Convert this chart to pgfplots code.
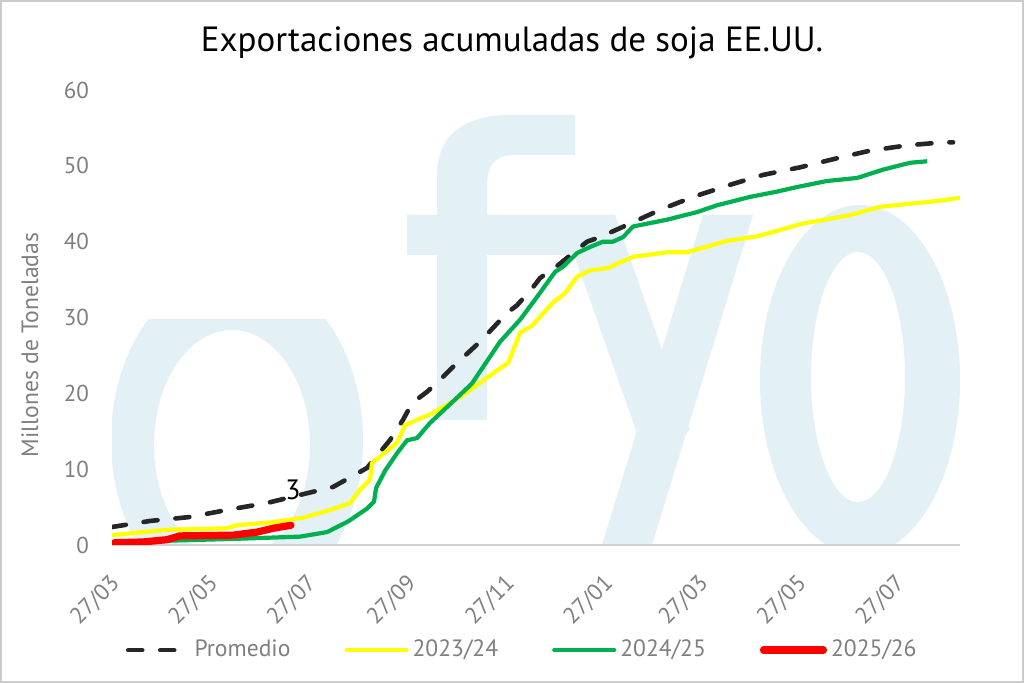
\documentclass[border=0pt]{standalone}
\usepackage{pgfplots}
\pgfplotsset{compat=1.18}
\usepackage{pgfplotstable}
\usepackage{fontspec}
\setmainfont{PT Sans}
\definecolor{wm}{HTML}{E3F0F5}
\definecolor{tgray}{HTML}{7F7F7F}
\definecolor{ygreen}{HTML}{00B050}
\definecolor{yyellow}{HTML}{FFFF00}
\definecolor{rred}{HTML}{FF0000}
\definecolor{dblack}{HTML}{262626}

\pgfplotstableread{
d v
0 2.37
23.6 3.17
48.4 3.69
71.3 4.62
96.2 5.54
116.6 6.60
137.1 7.65
158.2 10.16
172.5 13.85
180.5 16.5
186.1 18.7
195.4 20.2
201.6 21.4
214.0 24.0
228.3 26.8
245.0 30.6
251.2 31.6
261.2 34.0
265.5 35.2
276.7 36.9
294.7 40.0
302.7 40.6
319.5 42.2
340.0 44.2
360.4 45.9
383.4 47.5
403.8 48.8
426.8 49.8
449.8 51.0
470.2 52.0
493.2 52.7
515.5 53.1
521.7 53.1
}\promedio

\pgfplotstableread{
d v
0 1.3
34.1 2.0
71.3 2.2
77.5 2.6
99.9 3.0
118.5 3.6
133.4 4.5
147.6 5.5
153.8 7.3
160.0 8.6
161.3 10.8
176.8 13.5
181.8 15.8
189.2 16.5
199.1 17.4
215.9 19.5
226.4 21.1
240.7 23.3
245.7 24.0
253.1 28.0
260.5 28.9
273.6 32.0
281.0 33.2
288.5 35.4
296.5 36.2
307.1 36.5
323.2 38.0
344.3 38.6
356.7 38.6
381.5 40.1
400.1 40.7
428.7 42.4
457.8 43.5
476.4 44.6
499.4 45.1
513.6 45.4
526.1 45.8
}\yA

\pgfplotstableread{
d v
0 0.3
40 0.6
75 0.8
116.6 1.1
133.4 1.7
146.4 3.1
158.2 4.8
162.5 5.7
163.8 7.5
169.4 9.8
176.8 12.1
183.0 13.8
189.2 14.1
197.3 16.1
215.9 19.8
223.3 21.3
240.7 26.8
253.1 29.7
263.6 32.7
274.8 36.0
279.8 36.7
288.5 38.5
296.5 39.3
304.6 40.0
310.8 40.0
317.0 40.6
323.2 42.0
344.3 42.9
362.9 43.9
375.3 44.8
395.8 45.9
412.5 46.6
424.9 47.2
443.5 48.0
462.2 48.4
478.3 49.5
495.0 50.4
505.6 50.6
}\yB

\pgfplotstableread{
d v
1.5 0.3
19.2 0.4
34.1 0.7
42.2 1.2
75.1 1.3
90.0 1.7
99.9 2.2
111.0 2.6
}\yC

\begin{document}
\begin{tikzpicture}
\useasboundingbox (0,0) rectangle (512pt,341.5pt);
\fill[white] (0,0) rectangle (512pt,341.5pt);
% watermark (decoration)
\begin{scope}[x=0.5pt,y=-0.5pt,shift={(0pt,341.5pt)}]
\clip (112,90) rectangle (960,545);
\begin{scope}
\clip (100,320) rectangle (400,560);
\fill[wm, even odd rule] (237,440) ellipse [x radius=126, y radius=170]
   (232,445) ellipse [x radius=78, y radius=115];
\end{scope}
% f
\fill[wm] (437,420) -- (437,255) -- (407,255) -- (407,215) -- (437,215) -- (437,175)
   .. controls (437,135) and (465,115) .. (510,115) -- (575,115) -- (575,155) -- (515,155)
   .. controls (495,155) and (487,165) .. (487,185) -- (487,215) -- (592,215) -- (592,255)
   -- (487,255) -- (487,420) -- cycle;
% y
\fill[wm] (560,215) -- (615,215) -- (690,430) -- (650,470) -- cycle;
\fill[wm] (703,215) -- (753,215) -- (652,545) -- (602,545) -- cycle;
% o
\fill[wm, even odd rule] (860,380) ellipse [x radius=100, y radius=175]
   (858,377) ellipse [x radius=47, y radius=125];
\end{scope}
\draw[gray!40, line width=1.2pt] (0.6pt,0.6pt) rectangle (511.4pt,340.9pt);
\node[font=\fontsize{17.5}{20}\selectfont, text=black] at (256pt,320pt) {Exportaciones acumuladas de soja EE.UU.};
\node[font=\fontsize{11.8}{13}\selectfont, text=tgray, rotate=90] at (15pt,169pt) {Millones de Toneladas};
\begin{axis}[
  at={(56pt,69pt)}, anchor=south west,
  scale only axis, width=424pt, height=227.5pt,
  xmin=0, xmax=526, ymin=0, ymax=60,
  axis x line*=bottom, axis y line*=left,
  x axis line style={draw=gray!35, line width=0.8pt, -},
  y axis line style={draw=none},
  major tick length=0pt,
  xtick={0,61,122,184,245,306,365,426,487},
  xticklabels={27/03,27/05,27/07,27/09,27/11,27/01,27/03,27/05,27/07},
  ytick={0,10,...,60},
  tick label style={font=\fontsize{11.5}{13}\selectfont, text=tgray},
  x tick label style={xshift=-1.5pt, yshift=-9pt, rotate=45, anchor=north east},
  y tick label style={xshift=-8pt},
  /pgf/number format/assume math mode=true,
  legend style={draw=none, fill=none, at={(0.485,-0.231)}, anchor=center,
    font=\fontsize{11.8}{13}\selectfont, text=tgray,
    /tikz/every odd column/.append style={column sep=0pt},
    /tikz/every even column/.append style={column sep=25pt}},
  legend columns=4,
  legend cell align=left,
  legend image code/.code={\draw[#1, line cap=round] (0pt,0pt) -- (30pt,0pt);},
]
\addplot[dblack, line width=2.3pt, dash pattern=on 7pt off 9pt, line cap=round] table[x=d,y=v] {\promedio};
\addlegendentry{Promedio}
\addplot[yyellow, line width=2.1pt, line join=round] table[x=d,y=v] {\yA};
\addlegendentry{2023/24}
\addplot[ygreen, line width=2.1pt, line join=round] table[x=d,y=v] {\yB};
\addlegendentry{2024/25}
\addplot[rred, line width=3.6pt, line join=round, line cap=round] table[x=d,y=v] {\yC};
\addlegendentry{2025/26}
\node[font=\fontsize{14}{14}\selectfont, text=black] at (axis cs:112.3,7.3) {3};
\end{axis}
\end{tikzpicture}
\end{document}
